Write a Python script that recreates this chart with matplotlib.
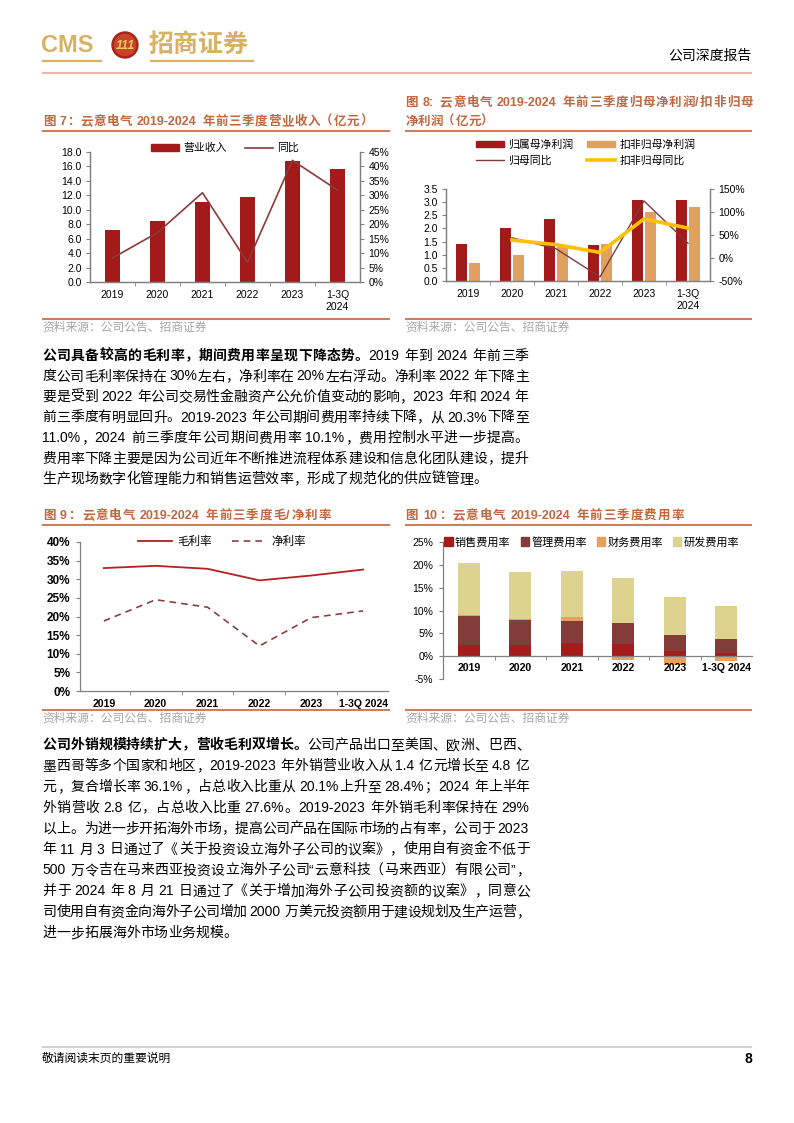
import numpy as np
import matplotlib
matplotlib.use('Agg')
import matplotlib.pyplot as plt
from matplotlib.patches import Patch, Circle
from matplotlib.lines import Line2D

plt.rcParams['font.family'] = ['Liberation Sans', 'Noto Sans CJK SC']
plt.rcParams['axes.unicode_minus'] = False

# ---- data ----
years = ['2019', '2020', '2021', '2022', '2023', '1-3Q\n2024']
years_flat = ['2019', '2020', '2021', '2022', '2023', '1-3Q 2024']

revenue = [7.2, 8.5, 11.1, 11.8, 16.8, 15.6]            # 亿元
revenue_yoy = [8.3, 17.1, 30.9, 6.8, 42.1, 31.8]         # %

net_profit = [1.40, 2.00, 2.35, 1.38, 3.07, 3.08]        # 亿元
net_profit_ded = [0.70, 0.98, 1.30, 1.42, 2.62, 2.80]
net_profit_yoy = [44, 20, -41, 124, 32]                  # % from 2020
net_profit_ded_yoy = [39, 29, 12, 85, 65]

gross_margin = [33.0, 33.6, 32.8, 29.7, 31.0, 32.6]
net_margin = [18.8, 24.5, 22.5, 12.1, 19.7, 21.5]

sales_rate = [2.5, 2.5, 2.9, 2.7, 1.1, 0.7]
admin_rate = [6.4, 5.5, 4.9, 4.6, 3.6, 3.1]
finance_rate = [0.1, 0.2, 0.8, -0.9, -2.0, -1.0]
rd_rate = [11.4, 10.15, 10.0, 9.9, 8.2, 7.2]

para1 = [
    [('公司具备较高的毛利率，期间费用率呈现下降态势。', True), ('2019 年到 2024 年前三季', False)],
    [('度公司毛利率保持在 30%左右，净利率在 20%左右浮动。净利率 2022 年下降主', False)],
    [('要是受到 2022 年公司交易性金融资产公允价值变动的影响，2023 年和 2024 年', False)],
    [('前三季度有明显回升。2019-2023 年公司期间费用率持续下降，从 20.3%下降至', False)],
    [('11.0%，2024 前三季度年公司期间费用率 10.1%，费用控制水平进一步提高。', False)],
    [('费用率下降主要是因为公司近年不断推进流程体系建设和信息化团队建设，提升', False)],
    [('生产现场数字化管理能力和销售运营效率，形成了规范化的供应链管理。', False)],
]
para2 = [
    [('公司外销规模持续扩大，营收毛利双增长。', True), ('公司产品出口至美国、欧洲、巴西、', False)],
    [('墨西哥等多个国家和地区，2019-2023 年外销营业收入从 1.4 亿元增长至 4.8 亿', False)],
    [('元，复合增长率 36.1%，占总收入比重从 20.1%上升至 28.4%；2024 年上半年', False)],
    [('外销营收 2.8 亿，占总收入比重 27.6%。2019-2023 年外销毛利率保持在 29%', False)],
    [('以上。为进一步开拓海外市场，提高公司产品在国际市场的占有率，公司于 2023', False)],
    [('年 11 月 3 日通过了《关于投资设立海外子公司的议案》，使用自有资金不低于', False)],
    [('500 万令吉在马来西亚投资设立海外子公司“云意科技（马来西亚）有限公司”，', False)],
    [('并于 2024 年 8 月 21 日通过了《关于增加海外子公司投资额的议案》，同意公', False)],
    [('司使用自有资金向海外子公司增加 2000 万美元投资额用于建设规划及生产运营，', False)],
    [('进一步拓展海外市场业务规模。', False)],
]

W, H = 794, 1123
TITLE_C = '#C0673F'
RULE_C = '#CD7F5C'
GOLD = '#D6B263'
SPINE_C = '#808080'

fig = plt.figure(figsize=(W / 100, H / 100), dpi=100)
page = fig.add_axes([0, 0, 1, 1], zorder=0)
page.set_xlim(0, W)
page.set_ylim(H, 0)
page.axis('off')
renderer = fig.canvas.get_renderer()


def box(x0, y0, x1, y1):
    return [x0 / W, 1 - y1 / H, (x1 - x0) / W, (y1 - y0) / H]


def is_cjk(s):
    return len(s) == 1 and ord(s) >= 0x2E80


def split_tokens(segments):
    out = []
    for text, bold in segments:
        run = ''
        for ch in text:
            if is_cjk(ch) or ch == ' ':
                if run:
                    out.append((run, bold))
                    run = ''
                out.append((ch, bold))
            else:
                run += ch
        if run:
            out.append((run, bold))
    return out


def write_line(x0, x1, y, segments, size=10, color='black', justify=True):
    # draws one line token by token so it can be stretched to the column width
    em = size * 100 / 72
    items = []
    for s, bold in split_tokens(segments):
        weight = 'bold' if bold else 'normal'
        if s == ' ':
            items.append((None, 0.28 * em, s))
            continue
        if is_cjk(s):
            ha = 'right' if s in '（《' else 'left'
            t = page.text(0, y, s, fontsize=size, color=color, weight=weight,
                          ha=ha, va='baseline')
            items.append((t, em, s))
        else:
            t = page.text(0, y, s, fontsize=size, color=color, weight=weight,
                          ha='left', va='baseline')
            items.append((t, t.get_window_extent(renderer).width, s))
    total = sum(w for _, w, _ in items)
    gap = (x1 - x0 - total) / (len(items) - 1) if justify and len(items) > 1 else 0
    x = x0
    for t, w, s in items:
        if t is not None:
            if is_cjk(s):
                t.set_x(x + 0.95 * em if t.get_ha() == 'right' else x + 0.05 * em)
            else:
                t.set_x(x)
        x += w + gap


def rule(x0, x1, y, color, lw=1.5):
    page.plot([x0, x1], [y, y], color=color, lw=lw, solid_capstyle='butt')


def source(x, y):
    page.text(x, y, '资料来源：公司公告、招商证券', fontsize=8.5, color='#A6A6A6',
              ha='left', va='center')


def style_axis(ax, sides):
    for k, sp in ax.spines.items():
        sp.set_visible(k in sides)
        sp.set_color(SPINE_C)
        sp.set_linewidth(0.9)


# ---- header ----
page.text(41, 45, 'CMS', fontsize=17, weight='bold', color=GOLD, ha='left', va='center')
page.add_patch(Circle((125, 45), 13, color='#A8261C', zorder=3))
page.add_patch(Circle((125, 45), 10.5, color='#C8442A', zorder=3))
page.text(125, 46, '111', fontsize=9, weight='bold', style='italic', color='#F2C95C',
          ha='center', va='center', zorder=4)
page.text(149, 45, '招商证券', fontsize=18, weight='bold', color=GOLD, ha='left', va='center')
rule(42, 102, 61, GOLD, 1.6)
rule(150, 254, 61, GOLD, 1.6)
page.text(752, 56, '公司深度报告', fontsize=10, color='black', ha='right', va='center')
rule(42, 752, 73, '#E6B9B0', 1.6)

# ---- titles / rules / sources ----
write_line(42, 372, 125, [('图 7：云意电气 2019-2024 年前三季度营业收入（亿元）', True)], size=9, color=TITLE_C)
rule(42, 390, 130.5, RULE_C)
write_line(405, 752, 106, [('图 8: 云意电气 2019-2024 年前三季度归母净利润/扣非归母', True)], size=9, color=TITLE_C)
write_line(405, 500, 125, [('净利润（亿元）', True)], size=9, color=TITLE_C, justify=False)
rule(405, 752, 130.5, RULE_C)
rule(42, 390, 319, RULE_C)
rule(405, 752, 319, RULE_C)
source(42, 328)
source(405, 328)

write_line(42, 330, 519, [('图 9：云意电气 2019-2024 年前三季度毛/净利率', True)], size=9, color=TITLE_C)
write_line(405, 683, 519, [('图 10：云意电气 2019-2024 年前三季度费用率', True)], size=9, color=TITLE_C)
rule(42, 390, 524.5, RULE_C)
rule(405, 752, 524.5, RULE_C)
rule(42, 390, 710, RULE_C)
rule(405, 752, 710, RULE_C)
source(42, 719)
source(405, 719)

# ---- body text ----
for i, segs in enumerate(para1):
    write_line(42, 528, 360 + 20.5 * i, segs, justify=i < len(para1) - 1)
for i, segs in enumerate(para2):
    write_line(42, 529, 749 + 20.9 * i, segs, justify=i < len(para2) - 1)

# ---- footer ----
rule(42, 752, 1047, '#C8C8C8', 1.2)
page.text(42, 1059, '敬请阅读末页的重要说明', fontsize=8.5, color='black', ha='left', va='center')
page.text(752, 1059, '8', fontsize=10, weight='bold', color='black', ha='right', va='center')

x = np.arange(6)
TICK = 7.5

# ---- figure 7: revenue ----
ax7 = fig.add_axes(box(90, 152, 360, 282))
ax7.bar(x, revenue, 0.34, color='#A31A1A', zorder=2)
ax7.set_xlim(-0.5, 5.5)
ax7.set_ylim(0, 18)
ax7.set_yticks(np.arange(0, 18.1, 2))
ax7.set_yticklabels([f'{v:.1f}' for v in np.arange(0, 18.1, 2)], fontsize=TICK)
ax7.set_xticks(x)
ax7.set_xticklabels(years, fontsize=TICK)
ax7.set_xticks(np.arange(0.5, 5, 1), minor=True)
ax7.tick_params(axis='x', which='major', length=0, pad=6)
ax7.tick_params(axis='x', which='minor', length=3, color=SPINE_C)
ax7.tick_params(axis='y', length=3, color=SPINE_C, pad=3)
style_axis(ax7, ['left', 'bottom', 'right'])
ax7r = ax7.twinx()
ax7r.plot(x, revenue_yoy, color='#8B3A3A', lw=1.2)
ax7r.set_ylim(0, 45)
ax7r.set_yticks(range(0, 46, 5))
ax7r.set_yticklabels([f'{v}%' for v in range(0, 46, 5)], fontsize=TICK)
ax7r.tick_params(axis='y', length=3, color=SPINE_C, pad=3)
style_axis(ax7r, ['left', 'bottom', 'right'])
ax7.legend([Patch(color='#A31A1A'), Line2D([], [], color='#8B3A3A', lw=1.2)],
           ['营业收入', '同比'], loc='center', bbox_to_anchor=(0.5, 1.03), ncol=2,
           frameon=False, fontsize=7.8, handlelength=2.6, handleheight=0.55,
           columnspacing=1.6, handletextpad=0.4, borderaxespad=0)

# ---- figure 8: net profit ----
ax8 = fig.add_axes(box(446, 189, 710, 281))
ax8.bar(x - 0.14, net_profit, 0.25, color='#A31A1A', zorder=2)
ax8.bar(x + 0.14, net_profit_ded, 0.25, color='#E0A15E', zorder=2)
ax8.set_xlim(-0.5, 5.5)
ax8.set_ylim(0, 3.5)
ax8.set_yticks(np.arange(0, 3.51, 0.5))
ax8.set_yticklabels([f'{v:.1f}' for v in np.arange(0, 3.51, 0.5)], fontsize=TICK)
ax8.set_xticks(x)
ax8.set_xticklabels(years, fontsize=TICK)
ax8.set_xticks(np.arange(0.5, 5, 1), minor=True)
ax8.tick_params(axis='x', which='major', length=0, pad=6)
ax8.tick_params(axis='x', which='minor', length=3, color=SPINE_C)
ax8.tick_params(axis='y', length=3, color=SPINE_C, pad=3)
style_axis(ax8, ['left', 'bottom', 'right'])
ax8r = ax8.twinx()
ax8r.plot(x[1:], net_profit_yoy, color='#7F3A3A', lw=1.0)
ax8r.plot(x[1:], net_profit_ded_yoy, color='#FFC000', lw=2.6)
ax8r.set_ylim(-50, 150)
ax8r.set_yticks(range(-50, 151, 50))
ax8r.set_yticklabels([f'{v}%' for v in range(-50, 151, 50)], fontsize=TICK)
ax8r.tick_params(axis='y', length=3, color=SPINE_C, pad=3)
style_axis(ax8r, ['left', 'bottom', 'right'])
fig.legend([Patch(color='#A31A1A'), Line2D([], [], color='#7F3A3A', lw=1.0),
            Patch(color='#E0A15E'), Line2D([], [], color='#FFC000', lw=2.6)],
           ['归属母净利润', '归母同比', '扣非归母净利润', '扣非归母同比'],
           loc='upper left', bbox_to_anchor=(476 / W, 1 - 139 / H), ncol=2,
           frameon=False, fontsize=7.8, handlelength=2.6, handleheight=0.55,
           columnspacing=1.2, handletextpad=0.4, labelspacing=0.55, borderaxespad=0,
           borderpad=0)

# ---- figure 9: margins ----
ax9 = fig.add_axes(box(80, 542, 388, 691))
ax9.plot(x, gross_margin, color='#B52020', lw=1.3)
ax9.plot(x, net_margin, color='#8B4040', lw=1.2, ls=(0, (4, 3)))
ax9.set_xlim(-0.46, 5.48)
ax9.set_ylim(0, 40)
ax9.set_yticks(range(0, 41, 5))
ax9.set_yticklabels([f'{v}%' for v in range(0, 41, 5)], fontsize=8.5, weight='bold')
ax9.set_xticks(x)
ax9.set_xticklabels(years_flat, fontsize=7.6, weight='bold')
ax9.set_xticks(np.arange(0.5, 5, 1), minor=True)
ax9.tick_params(axis='x', which='major', length=0, pad=6)
ax9.tick_params(axis='x', which='minor', length=3, color=SPINE_C)
ax9.tick_params(axis='y', length=3, color=SPINE_C, pad=4)
style_axis(ax9, ['left', 'bottom'])
ax9.legend([Line2D([], [], color='#B52020', lw=1.3),
            Line2D([], [], color='#8B4040', lw=1.2, ls=(0, (4, 3)))],
           ['毛利率', '净利率'], loc='center', bbox_to_anchor=(0.46, 1.0), ncol=2,
           frameon=False, fontsize=8.3, handlelength=3.0, columnspacing=1.8,
           handletextpad=0.4, borderaxespad=0)

# ---- figure 10: expense ratios ----
ax10 = fig.add_axes(box(443, 542, 752, 679))
ax10.spines['bottom'].set_position(('data', 0))
sales = np.array(sales_rate)
admin = np.array(admin_rate)
fin = np.array(finance_rate)
rd = np.array(rd_rate)
bw = 0.42
ax10.bar(x, sales, bw, color='#A51C1C', zorder=2)
ax10.bar(x, admin, bw, bottom=sales, color='#843C39', zorder=2)
fin_bottom = np.where(fin > 0, sales + admin, 0)
ax10.bar(x, fin, bw, bottom=fin_bottom, color='#E8A05C', zorder=2)
ax10.bar(x, rd, bw, bottom=sales + admin + np.clip(fin, 0, None), color='#DDD28E', zorder=2)
ax10.set_xlim(-0.5, 5.5)
ax10.set_ylim(-5, 25)
ax10.set_yticks(range(-5, 26, 5))
ax10.set_yticklabels([f'{v}%' for v in range(-5, 26, 5)], fontsize=TICK)
ax10.set_xticks(x)
ax10.set_xticklabels(years_flat, fontsize=7.6, weight='bold')
ax10.set_xticks(np.arange(0.5, 5, 1), minor=True)
ax10.tick_params(axis='x', which='major', length=0, pad=5)
ax10.tick_params(axis='x', which='minor', length=3, color=SPINE_C)
ax10.tick_params(axis='y', length=3, color=SPINE_C, pad=4)
style_axis(ax10, ['left', 'bottom'])
ax10.spines['bottom'].set_zorder(3)
ax10.xaxis.set_zorder(3)
ax10.legend([Patch(color='#A51C1C'), Patch(color='#843C39'), Patch(color='#E8A05C'),
             Patch(color='#DDD28E')],
            ['销售费用率', '管理费用率', '财务费用率', '研发费用率'],
            loc='center left', bbox_to_anchor=(-0.01, 1.0), ncol=4, frameon=False,
            fontsize=8, handlelength=0.75, handleheight=0.75, columnspacing=0.9,
            handletextpad=0.2, borderaxespad=0)

fig.savefig('out.png', dpi=100)
